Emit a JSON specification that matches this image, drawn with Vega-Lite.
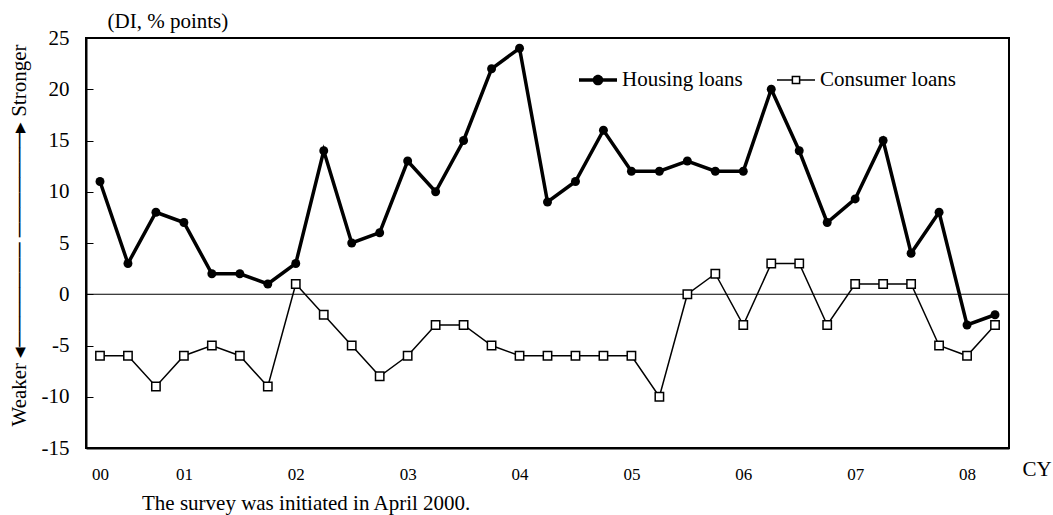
{
  "$schema": "https://vega.github.io/schema/vega-lite/v6.json",
  "width": 923,
  "height": 410,
  "autosize": {"type": "none"},
  "padding": {"left": 86, "top": 38, "right": 44, "bottom": 67},
  "background": "white",
  "config": {
    "font": "Liberation Serif",
    "view": {"stroke": "black", "strokeWidth": 2},
    "axis": {
      "labelFont": "Liberation Serif",
      "titleFont": "Liberation Serif",
      "labelColor": "black",
      "titleColor": "black",
      "titleFontWeight": "normal",
      "grid": false,
      "domainColor": "black",
      "domainWidth": 2,
      "tickColor": "black",
      "tickWidth": 1
    }
  },
  "title": {
    "text": "The survey was initiated in April 2000.",
    "orient": "bottom",
    "anchor": "start",
    "frame": "group",
    "dx": 56,
    "offset": 11,
    "font": "Liberation Serif",
    "fontSize": 21,
    "fontWeight": "normal",
    "color": "black"
  },
  "data": {
    "values": [
      {"i": 0, "series": "Housing loans", "value": 11},
      {"i": 1, "series": "Housing loans", "value": 3},
      {"i": 2, "series": "Housing loans", "value": 8},
      {"i": 3, "series": "Housing loans", "value": 7},
      {"i": 4, "series": "Housing loans", "value": 2},
      {"i": 5, "series": "Housing loans", "value": 2},
      {"i": 6, "series": "Housing loans", "value": 1},
      {"i": 7, "series": "Housing loans", "value": 3},
      {"i": 8, "series": "Housing loans", "value": 14},
      {"i": 9, "series": "Housing loans", "value": 5},
      {"i": 10, "series": "Housing loans", "value": 6},
      {"i": 11, "series": "Housing loans", "value": 13},
      {"i": 12, "series": "Housing loans", "value": 10},
      {"i": 13, "series": "Housing loans", "value": 15},
      {"i": 14, "series": "Housing loans", "value": 22},
      {"i": 15, "series": "Housing loans", "value": 24},
      {"i": 16, "series": "Housing loans", "value": 9},
      {"i": 17, "series": "Housing loans", "value": 11},
      {"i": 18, "series": "Housing loans", "value": 16},
      {"i": 19, "series": "Housing loans", "value": 12},
      {"i": 20, "series": "Housing loans", "value": 12},
      {"i": 21, "series": "Housing loans", "value": 13},
      {"i": 22, "series": "Housing loans", "value": 12},
      {"i": 23, "series": "Housing loans", "value": 12},
      {"i": 24, "series": "Housing loans", "value": 20},
      {"i": 25, "series": "Housing loans", "value": 14},
      {"i": 26, "series": "Housing loans", "value": 7},
      {"i": 27, "series": "Housing loans", "value": 9.3},
      {"i": 28, "series": "Housing loans", "value": 15},
      {"i": 29, "series": "Housing loans", "value": 4},
      {"i": 30, "series": "Housing loans", "value": 8},
      {"i": 31, "series": "Housing loans", "value": -3},
      {"i": 32, "series": "Housing loans", "value": -2},
      {"i": 0, "series": "Consumer loans", "value": -6},
      {"i": 1, "series": "Consumer loans", "value": -6},
      {"i": 2, "series": "Consumer loans", "value": -9},
      {"i": 3, "series": "Consumer loans", "value": -6},
      {"i": 4, "series": "Consumer loans", "value": -5},
      {"i": 5, "series": "Consumer loans", "value": -6},
      {"i": 6, "series": "Consumer loans", "value": -9},
      {"i": 7, "series": "Consumer loans", "value": 1},
      {"i": 8, "series": "Consumer loans", "value": -2},
      {"i": 9, "series": "Consumer loans", "value": -5},
      {"i": 10, "series": "Consumer loans", "value": -8},
      {"i": 11, "series": "Consumer loans", "value": -6},
      {"i": 12, "series": "Consumer loans", "value": -3},
      {"i": 13, "series": "Consumer loans", "value": -3},
      {"i": 14, "series": "Consumer loans", "value": -5},
      {"i": 15, "series": "Consumer loans", "value": -6},
      {"i": 16, "series": "Consumer loans", "value": -6},
      {"i": 17, "series": "Consumer loans", "value": -6},
      {"i": 18, "series": "Consumer loans", "value": -6},
      {"i": 19, "series": "Consumer loans", "value": -6},
      {"i": 20, "series": "Consumer loans", "value": -10},
      {"i": 21, "series": "Consumer loans", "value": 0},
      {"i": 22, "series": "Consumer loans", "value": 2},
      {"i": 23, "series": "Consumer loans", "value": -3},
      {"i": 24, "series": "Consumer loans", "value": 3},
      {"i": 25, "series": "Consumer loans", "value": 3},
      {"i": 26, "series": "Consumer loans", "value": -3},
      {"i": 27, "series": "Consumer loans", "value": 1},
      {"i": 28, "series": "Consumer loans", "value": 1},
      {"i": 29, "series": "Consumer loans", "value": 1},
      {"i": 30, "series": "Consumer loans", "value": -5},
      {"i": 31, "series": "Consumer loans", "value": -6},
      {"i": 32, "series": "Consumer loans", "value": -3}
    ]
  },
  "layer": [
    {
      "data": {"values": [{}]},
      "mark": {"type": "rule", "color": "black", "strokeWidth": 1},
      "encoding": {
        "y": {
          "datum": 0,
          "type": "quantitative",
          "scale": {"domain": [-15, 25], "nice": false, "zero": false},
          "axis": {
            "orient": "left",
            "title": "Weaker  ◂───────          ───────▸    Stronger",
            "labels": false,
            "ticks": false,
            "domain": false,
            "grid": false,
            "titleAngle": -90,
            "titleX": -61,
            "titleY": 197,
            "titleAlign": "center",
            "titleBaseline": "alphabetic",
            "titleFontSize": 21
          }
        }
      }
    },
    {
      "transform": [{"filter": "datum.series === 'Consumer loans'"}],
      "mark": {"type": "line", "color": "black", "strokeWidth": 1.5},
      "encoding": {
        "x": {
          "field": "i",
          "type": "quantitative",
          "scale": {"domain": [-0.5, 32.5], "nice": false, "zero": false},
          "axis": {
            "orient": "bottom",
            "values": [0, 3, 7, 11, 15, 19, 23, 27, 31],
            "labelExpr": "datum.value == 0 ? '00' : '0' + ((datum.value + 1) / 4)",
            "ticks": false,
            "labelFontSize": 17,
            "labelPadding": 18,
            "labelBaseline": "top",
            "title": "CY",
            "titleX": 936,
            "titleY": 27.5,
            "titleAlign": "left",
            "titleBaseline": "alphabetic",
            "titleFontSize": 21
          }
        },
        "y": {
          "field": "value",
          "type": "quantitative",
          "scale": {"domain": [-15, 25], "nice": false, "zero": false},
          "axis": {
            "orient": "left",
            "values": [-15, -10, -5, 0, 5, 10, 15, 20, 25],
            "labelExpr": "datum.value + ''",
            "labelFontSize": 21,
            "tickSize": -7,
            "labelPadding": 24,
            "title": "(DI, % points)",
            "titleAngle": 0,
            "titleAlign": "left",
            "titleBaseline": "alphabetic",
            "titleX": 21,
            "titleY": -11,
            "titleFontSize": 21
          }
        }
      }
    },
    {
      "transform": [{"filter": "datum.series === 'Housing loans'"}],
      "mark": {"type": "line", "color": "black", "strokeWidth": 3.5},
      "encoding": {
        "x": {"field": "i", "type": "quantitative"},
        "y": {"field": "value", "type": "quantitative", "axis": null}
      }
    },
    {
      "transform": [{"filter": "datum.series === 'Consumer loans'"}],
      "mark": {"type": "point", "shape": "square", "filled": true, "fill": "white", "stroke": "black", "strokeWidth": 1.5, "size": 70, "opacity": 1},
      "encoding": {
        "x": {"field": "i", "type": "quantitative"},
        "y": {"field": "value", "type": "quantitative", "axis": null}
      }
    },
    {
      "transform": [{"filter": "datum.series === 'Housing loans'"}],
      "mark": {"type": "point", "shape": "circle", "filled": true, "color": "black", "size": 80, "opacity": 1},
      "encoding": {
        "x": {"field": "i", "type": "quantitative"},
        "y": {"field": "value", "type": "quantitative", "axis": null}
      }
    },
    {
      "mark": {"type": "point", "filled": true, "color": "black", "opacity": 0},
      "encoding": {
        "x": {"field": "i", "type": "quantitative"},
        "y": {"field": "value", "type": "quantitative", "axis": null},
        "shape": {
          "field": "series",
          "type": "nominal",
          "scale": {
            "domain": ["Housing loans", "Consumer loans"],
            "range": [
              "M-1,-0.092H1V0.092H-1Z M-0.28,0A0.28,0.28 0 1,1 0.28,0A0.28,0.28 0 1,1 -0.28,0Z",
              "M-1,-0.04H-0.23V0.04H-1Z M0.23,-0.04H1V0.04H0.23Z M-0.23,-0.23H0.23V0.23H-0.23Z M-0.15,-0.15V0.15H0.15V-0.15Z"
            ]
          },
          "legend": {
            "orient": "none",
            "legendX": 493,
            "legendY": 23,
            "direction": "horizontal",
            "title": null,
            "padding": 0,
            "symbolSize": 1444,
            "symbolOpacity": 1,
            "symbolFillColor": "black",
            "symbolStrokeWidth": 0,
            "labelFont": "Liberation Serif",
            "labelFontSize": 21,
            "labelColor": "black",
            "labelOffset": 5,
            "columnPadding": 34
          }
        }
      }
    }
  ],
  "resolve": {"axis": {"y": "independent"}}
}
